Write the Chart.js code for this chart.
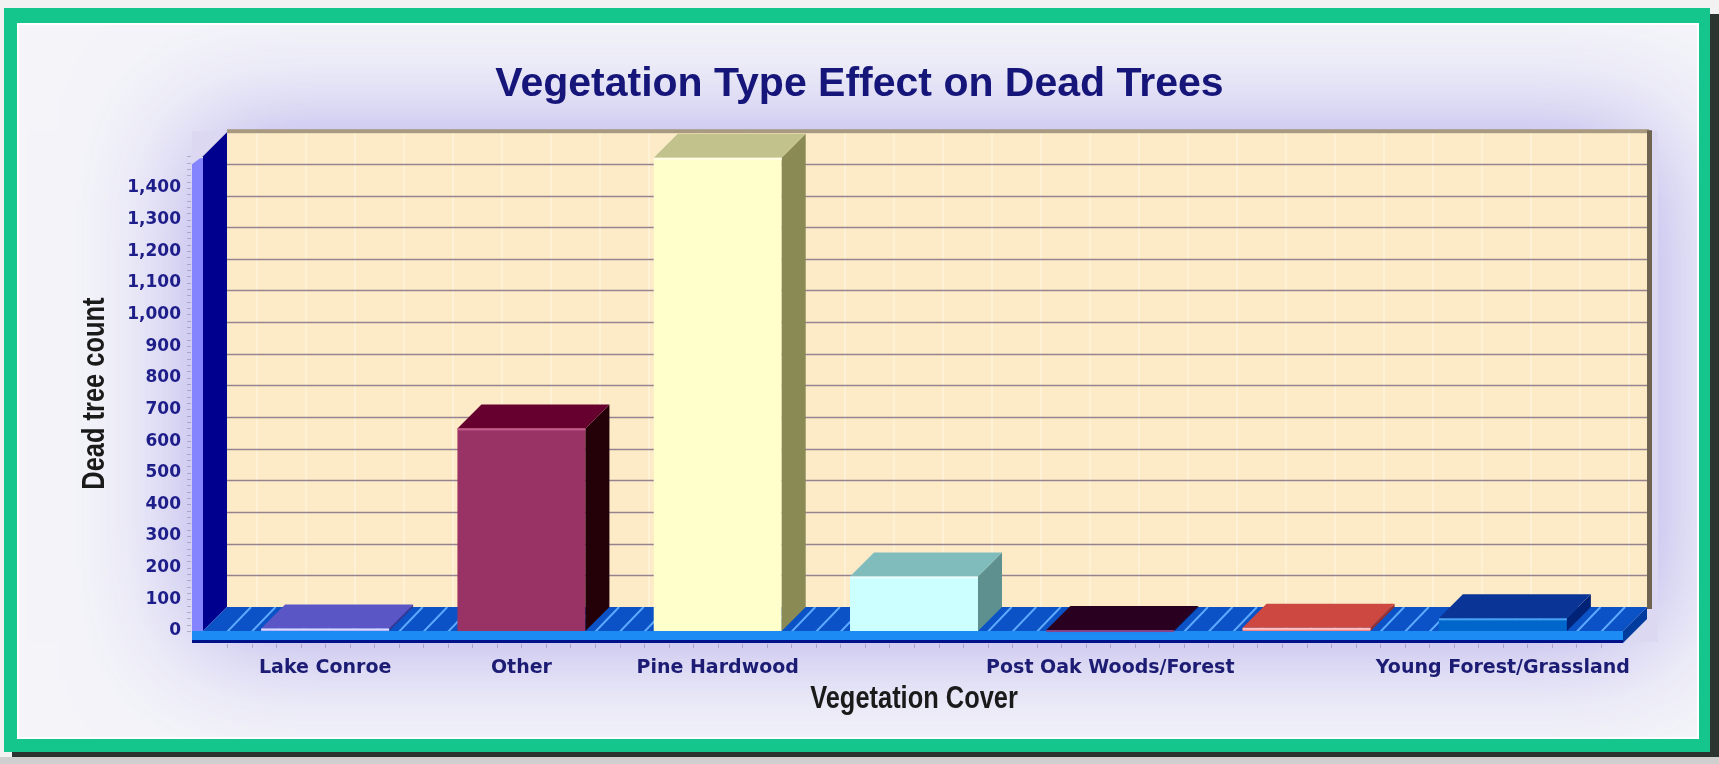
<!DOCTYPE html>
<html>
<head>
<meta charset="utf-8">
<script src="https://cdn.jsdelivr.net/npm/chart.js@4"></script>
<style>
  html, body { margin: 0; padding: 0; background: #f2f2f2; }
  canvas { display: block; }
</style>
</head>
<body>
<canvas id="chart" width="1719" height="764"></canvas>
<script>
// data (labels 4 and 6 are not printed on the axis)
const categories = ["Lake Conroe", "Other", "Pine Hardwood", "", "Post Oak Woods/Forest", "", "Young Forest/Grassland"];
const deadTrees = [8, 640, 1495, 172, 3, 10, 40];
const yMax = 1500;
const yStep = 100;
const xTitle = "Vegetation Cover";
const yTitle = "Dead tree count";

// bar colours: front, top and side faces
const frontColors = ["#9999ff", "#993366", "#ffffcc", "#ccffff", "#660066", "#ff8080", "#0066cc"];
const topColors = ["#5a56c6", "#66002e", "#c2c28c", "#80bcbc", "#2a0020", "#cc4840", "#0a3596"];
const sideColors = ["#3a3690", "#240008", "#8a8a55", "#5e9090", "#1a0012", "#993030", "#002277"];
const lightColors = ["#d8d8ff", "#c45a8a", "#ffffe6", "#e6ffff", "#884488", "#ffc0c0", "#4aa0f0"];

const DX = 24, DY = 24;

Chart.defaults.font.family = "'DejaVu Sans', sans-serif";

// condensed bold axis titles (no narrow font installed, so squeeze horizontally)
function narrowText(ctx, text, x, y, rot) {
  ctx.save();
  ctx.translate(x, y);
  ctx.rotate(rot);
  ctx.scale(0.82, 1);
  ctx.font = "bold 31px 'Liberation Sans', Arial, sans-serif";
  ctx.fillStyle = "#1a1a1a";
  ctx.textAlign = "center";
  ctx.textBaseline = "middle";
  ctx.fillText(text, 0, 0);
  ctx.restore();
}

const scene3d = {
  id: "scene3d",
  beforeDraw(chart) {
    const ctx = chart.ctx;
    const W = chart.width, H = chart.height;
    const a = chart.chartArea;
    ctx.save();
    ctx.fillStyle = "#f2f2f2";
    ctx.fillRect(0, 0, W, H);
    // frame shadow + green border
    ctx.fillStyle = "#2c3430";
    ctx.fillRect(12, 14, W - 12, 743);
    ctx.fillStyle = "#cfcfcf";
    ctx.fillRect(0, 757, W, H - 757);
    ctx.fillStyle = "#14c58c";
    ctx.fillRect(4, 8, 1706, 744);
    ctx.fillStyle = "#ffffff";
    ctx.fillRect(17, 23, 1682, 716);
    ctx.fillStyle = "#f4f4f9";
    ctx.fillRect(19, 25, 1678, 712);
    // lavender glow around the plot
    ctx.beginPath();
    ctx.rect(19, 25, 1678, 712);
    ctx.clip();
    ctx.shadowColor = "rgba(150, 138, 228, 0.75)";
    ctx.shadowBlur = 110;
    ctx.fillStyle = "#dcd8f2";
    ctx.fillRect(a.left - 35, a.top - 25, a.right - a.left + 92, a.bottom - a.top + 36);
    ctx.restore();
  },
  beforeDatasetsDraw(chart) {
    const ctx = chart.ctx;
    const a = chart.chartArea;
    const xs = chart.scales.x, ys = chart.scales.y;
    const fl = a.left - 24, fr = a.right + 22;
    const y0 = ys.getPixelForValue(0), yTop = ys.getPixelForValue(yMax);
    const bx0 = fl + DX, bx1 = fr + DX, by0 = yTop - DY, by1 = y0 - DY;
    ctx.save();
    // back wall
    ctx.fillStyle = "#fdebc8";
    ctx.fillRect(bx0, by0, bx1 - bx0, by1 - by0);
    ctx.strokeStyle = "rgba(255,250,230,0.45)";
    ctx.lineWidth = 2;
    for (let x = bx0 + 30; x < bx1; x += 49) {
      ctx.beginPath();
      ctx.moveTo(x, by0);
      ctx.lineTo(x, by1);
      ctx.stroke();
    }
    // grid lines on the back wall
    ctx.strokeStyle = "rgba(125, 105, 130, 0.8)";
    ctx.lineWidth = 1.6;
    ys.ticks.forEach(t => {
      if (t.value <= 0 || t.value >= yMax) return;
      const y = Math.round(ys.getPixelForValue(t.value) - DY) + 0.5;
      ctx.beginPath();
      ctx.moveTo(bx0, y);
      ctx.lineTo(bx1, y);
      ctx.stroke();
    });
    // wall edges
    ctx.fillStyle = "#a89a80";
    ctx.fillRect(bx0, by0 - 3, bx1 - bx0 + 2, 4);
    ctx.fillStyle = "#6e6450";
    ctx.fillRect(bx1, by0 - 2, 5, by1 - by0 + 4);

    // left wall
    ctx.fillStyle = "#00008e";
    ctx.beginPath();
    ctx.moveTo(fl, yTop);
    ctx.lineTo(bx0, by0);
    ctx.lineTo(bx0, by1);
    ctx.lineTo(fl, y0);
    ctx.closePath();
    ctx.fill();
    ctx.fillStyle = "#8484ff";
    ctx.beginPath();
    ctx.moveTo(fl - 11, yTop + 8);
    ctx.lineTo(fl - 3, yTop + 2);
    ctx.lineTo(fl, yTop + 2);
    ctx.lineTo(fl, y0 + 11);
    ctx.lineTo(fl - 11, y0 + 11);
    ctx.closePath();
    ctx.fill();

    // floor top with hatching
    ctx.save();
    ctx.beginPath();
    ctx.moveTo(fl, y0);
    ctx.lineTo(bx0, by1);
    ctx.lineTo(bx1, by1);
    ctx.lineTo(fr, y0);
    ctx.closePath();
    ctx.fillStyle = "#0a52c6";
    ctx.fill();
    ctx.clip();
    const sp = (xs.getPixelForValue(1) - xs.getPixelForValue(0)) / 8;
    ctx.strokeStyle = "#5eaaff";
    ctx.lineWidth = 2;
    for (let x = a.left; x <= fr + 1; x += sp) {
      ctx.beginPath();
      ctx.moveTo(x, y0 + 1);
      ctx.lineTo(x + DX, y0 - DY);
      ctx.stroke();
    }
    ctx.restore();
    // floor front and right end
    ctx.fillStyle = "#1c8cf4";
    ctx.fillRect(fl - 11, y0, fr - fl + 11, 9);
    ctx.fillStyle = "#00128a";
    ctx.fillRect(fl - 11, y0 + 9, fr - fl + 11, 3);
    ctx.fillStyle = "#003c9e";
    ctx.beginPath();
    ctx.moveTo(fr, y0);
    ctx.lineTo(bx1, by1);
    ctx.lineTo(bx1, by1 + 12);
    ctx.lineTo(fr, y0 + 12);
    ctx.closePath();
    ctx.fill();
    // small tick marks under the floor and beside the wall
    ctx.strokeStyle = "rgba(120,120,150,0.45)";
    ctx.lineWidth = 1;
    for (let x = a.left; x <= fr; x += sp) {
      ctx.beginPath();
      ctx.moveTo(Math.round(x) + 0.5, y0 + 13);
      ctx.lineTo(Math.round(x) + 0.5, y0 + 17);
      ctx.stroke();
    }
    for (let v = 0; v <= yMax; v += yStep / 5) {
      const y = Math.round(ys.getPixelForValue(v)) + 0.5;
      ctx.beginPath();
      ctx.moveTo(fl - 16, y);
      ctx.lineTo(fl - 12, y);
      ctx.stroke();
    }
    ctx.restore();
  },
  afterDatasetsDraw(chart) {
    const ctx = chart.ctx;
    const a = chart.chartArea;
    const meta = chart.getDatasetMeta(0);
    ctx.save();
    meta.data.forEach((bar, i) => {
      const p = bar.getProps(["x", "y", "base", "width"], true);
      const l = p.x - p.width / 2, r = p.x + p.width / 2;
      ctx.fillStyle = sideColors[i];
      ctx.beginPath();
      ctx.moveTo(r, p.y);
      ctx.lineTo(r + DX, p.y - DY);
      ctx.lineTo(r + DX, p.base - DY);
      ctx.lineTo(r, p.base);
      ctx.closePath();
      ctx.fill();
      ctx.fillStyle = topColors[i];
      ctx.beginPath();
      ctx.moveTo(l, p.y);
      ctx.lineTo(l + DX, p.y - DY);
      ctx.lineTo(r + DX, p.y - DY);
      ctx.lineTo(r, p.y);
      ctx.closePath();
      ctx.fill();
      ctx.fillStyle = lightColors[i];
      ctx.fillRect(l, p.y, p.width, 2);
    });
    ctx.restore();
    // axis titles
    narrowText(ctx, xTitle, (a.left + a.right) / 2, a.bottom + 68, 0);
    narrowText(ctx, yTitle, 95, (a.top + a.bottom) / 2, -Math.PI / 2);
  }
};

new Chart(document.getElementById("chart"), {
  type: "bar",
  data: {
    labels: categories,
    datasets: [{
      label: yTitle,
      data: deadTrees,
      backgroundColor: frontColors,
      borderWidth: 0,
      categoryPercentage: 1,
      barPercentage: 0.652
    }]
  },
  options: {
    responsive: false,
    animation: false,
    devicePixelRatio: 1,
    layout: { padding: { left: 20, right: 20, top: 24, bottom: 30 } },
    plugins: {
      legend: { display: false },
      tooltip: { enabled: false },
      title: {
        display: true,
        text: "Vegetation Type Effect on Dead Trees",
        color: "#16167a",
        font: { family: "'Liberation Sans', Arial, sans-serif", size: 41, weight: "bold" },
        padding: { top: 36, bottom: 47 }
      }
    },
    scales: {
      x: {
        offset: true,
        grid: { display: false, drawTicks: false },
        border: { display: false },
        ticks: {
          color: "#1c1c74",
          font: { size: 19, weight: "bold" },
          padding: 26,
          autoSkip: false,
          maxRotation: 0
        },
        afterFit(s) { s.height = 103; }
      },
      y: {
        min: 0,
        max: yMax,
        grid: { display: false, drawTicks: false },
        border: { display: false },
        ticks: {
          stepSize: yStep,
          color: "#1e1e8a",
          font: { size: 17, weight: "bold" },
          padding: 46,
          callback: v => v === yMax ? "" : v.toLocaleString("en-US")
        },
        afterFit(s) { s.width = 207; }
      },
      yR: {
        position: "right",
        grid: { display: false },
        border: { display: false },
        ticks: { display: false },
        afterFit(s) { s.width = 98; }
      }
    }
  },
  plugins: [scene3d]
});
</script>
</body>
</html>
